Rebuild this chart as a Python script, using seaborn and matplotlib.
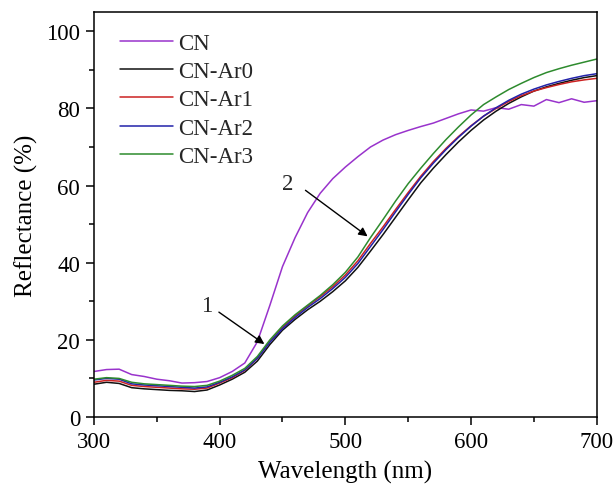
import matplotlib
matplotlib.use("Agg")
import matplotlib.pyplot as plt
import numpy as np
import pandas as pd
import seaborn as sns

wavelength = list(range(300, 701, 10))

cn = [11.8, 12.3, 12.4, 11.0, 10.5, 9.8, 9.4, 8.8, 8.9, 9.2,
      10.2, 11.8, 14.0, 19.5, 29.0, 39.0, 46.5, 53.0, 58.0, 61.8,
      64.8, 67.5, 70.0, 71.8, 73.2, 74.3, 75.3, 76.2, 77.4, 78.6,
      79.6, 79.3, 80.2, 79.8, 81.0, 80.6, 82.3, 81.5, 82.5, 81.6, 82.0]
cn_ar0 = [8.5, 9.0, 8.7, 7.6, 7.3, 7.1, 6.9, 6.8, 6.6, 7.0,
          8.3, 9.8, 11.6, 14.5, 18.8, 22.5, 25.3, 27.8, 30.0, 32.5,
          35.3, 38.8, 43.0, 47.3, 51.8, 56.3, 60.7, 64.5, 68.0, 71.3,
          74.3, 77.0, 79.3, 81.3, 83.0, 84.5, 85.6, 86.5, 87.3, 88.0, 88.5]
cn_ar1 = [9.0, 9.5, 9.3, 8.2, 7.9, 7.7, 7.5, 7.3, 7.2, 7.5,
          8.8, 10.2, 12.1, 15.2, 19.6, 23.2, 26.2, 28.8, 31.2, 33.8,
          36.8, 40.5, 45.0, 49.3, 53.8, 58.2, 62.4, 66.2, 69.6, 72.7,
          75.5, 78.0, 80.0, 81.8, 83.3, 84.5, 85.4, 86.2, 86.9, 87.4, 87.8]
cn_ar2 = [9.6, 10.0, 9.8, 8.6, 8.3, 8.1, 7.9, 7.7, 7.5, 7.8,
          9.0, 10.4, 12.2, 15.2, 19.4, 22.9, 25.8, 28.4, 30.7, 33.3,
          36.2, 39.8, 44.2, 48.6, 53.2, 57.7, 62.0, 65.8, 69.3, 72.5,
          75.4, 78.0, 80.2, 82.1, 83.7, 85.0, 86.1, 87.0, 87.8, 88.5, 89.0]
cn_ar3 = [9.8, 10.2, 10.0, 9.0, 8.6, 8.4, 8.2, 8.0, 7.9, 8.2,
          9.3, 10.8, 12.6, 15.7, 20.0, 23.6, 26.5, 29.0, 31.5, 34.3,
          37.5, 41.5, 46.5, 51.2, 56.0, 60.5, 64.5, 68.3, 71.9, 75.2,
          78.3, 81.0, 83.0, 84.9, 86.5, 88.0, 89.3, 90.3, 91.2, 92.0, 92.8]

samples = ["CN", "CN-Ar0", "CN-Ar1", "CN-Ar2", "CN-Ar3"]
colors = ["#9933CC", "#111111", "#CC2222", "#2222AA", "#2E8B2E"]

df = pd.concat(
    [pd.DataFrame({"wavelength": wavelength, "reflectance": vals, "sample": name})
     for name, vals in zip(samples, [cn, cn_ar0, cn_ar1, cn_ar2, cn_ar3])],
    ignore_index=True,
)

sns.set_theme(style="ticks")
plt.rcParams["font.family"] = ["Liberation Serif", "DejaVu Serif"]

fig = plt.figure(figsize=(6.13, 4.89), dpi=100)
ax = fig.add_axes([0.1533, 0.1452, 0.8201, 0.8282])

sns.lineplot(data=df, x="wavelength", y="reflectance", hue="sample",
             hue_order=samples, palette=dict(zip(samples, colors)),
             linewidth=1.1, errorbar=None, ax=ax)

ax.set_xlim(300, 700)
ax.set_ylim(0, 105)
ax.set_xticks([300, 400, 500, 600, 700])
ax.set_xticks([350, 450, 550, 650], minor=True)
ax.set_yticks([0, 20, 40, 60, 80, 100])
ax.set_yticks([10, 30, 50, 70, 90], minor=True)
ax.tick_params(which="major", direction="out", length=6, width=1.1,
               labelsize=16.5, color="black", labelcolor="black", pad=4)
ax.tick_params(which="minor", direction="out", length=3.5, width=1.1, color="black")
ax.tick_params(top=False, right=False, which="both")
for s in ax.spines.values():
    s.set_color("black")
    s.set_linewidth(1.1)

ax.set_xlabel("Wavelength (nm)", fontsize=18, color="black", labelpad=6)
ax.set_ylabel("Reflectance (%)", fontsize=18, color="black", labelpad=6)

ax.legend(loc="upper left", bbox_to_anchor=(0.01, 1.0), frameon=False,
          fontsize=16.5, handlelength=2.35, handletextpad=0.2,
          labelspacing=0.32, borderaxespad=0.5)

arrow = dict(arrowstyle="-|>", color="black", lw=1.0, mutation_scale=13)
ax.annotate("", xy=(437.4, 18.5), xytext=(397.6, 27.6), arrowprops=arrow)
ax.text(389.6, 28.9, "1", fontsize=16.5, ha="center", va="center")
ax.annotate("", xy=(519.5, 46.4), xytext=(466.5, 59.2), arrowprops=arrow)
ax.text(454.5, 60.5, "2", fontsize=16.5, ha="center", va="center")

fig.savefig("out.png", dpi=100)
